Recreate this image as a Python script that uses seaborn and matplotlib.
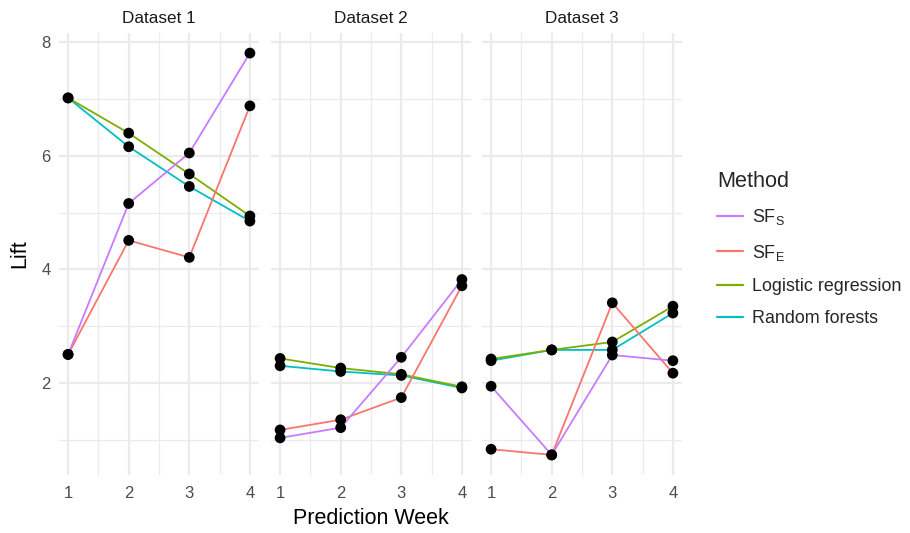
import numpy as np
import pandas as pd
import matplotlib
matplotlib.use("Agg")
import matplotlib.pyplot as plt
from matplotlib.lines import Line2D
import seaborn as sns

# data
weeks = [1, 2, 3, 4]
datasets = ["Dataset 1", "Dataset 2", "Dataset 3"]
methods = ["SF_S", "SF_E", "Logistic regression", "Random forests"]
method_labels = [r"SF$_\mathregular{S}$", r"SF$_\mathregular{E}$",
                 "Logistic regression", "Random forests"]

sfs_lift = [[2.50, 5.16, 6.05, 7.81],
            [1.03, 1.21, 2.45, 3.82],
            [1.94, 0.73, 2.49, 2.39]]
sfe_lift = [[2.50, 4.51, 4.21, 6.88],
            [1.17, 1.35, 1.74, 3.71],
            [0.83, 0.73, 3.41, 2.17]]
lr_lift = [[7.02, 6.40, 5.68, 4.94],
           [2.43, 2.26, 2.15, 1.93],
           [2.42, 2.58, 2.72, 3.35]]
rf_lift = [[7.02, 6.16, 5.46, 4.85],
           [2.30, 2.20, 2.13, 1.91],
           [2.39, 2.58, 2.58, 3.23]]

colors = ["#C77CFF", "#F8766D", "#7CAE00", "#00BFC4"]

rows = []
for m, vals in zip(methods, [sfs_lift, sfe_lift, lr_lift, rf_lift]):
    for d, series in zip(datasets, vals):
        for w, v in zip(weeks, series):
            rows.append({"dataset": d, "method": m, "week": w, "lift": v})
df = pd.DataFrame(rows)

sns.set_theme(style="white")
plt.rcParams["font.family"] = ["Liberation Sans", "DejaVu Sans"]
plt.rcParams["mathtext.fontset"] = "custom"
plt.rcParams["mathtext.rm"] = "Liberation Sans"

fig = plt.figure(figsize=(9.1, 5.33), dpi=100)
grid_col = "#EBEBEB"
palette = dict(zip(methods, colors))

lefts = [59, 271, 482]
for i, d in enumerate(datasets):
    ax = fig.add_axes([lefts[i] / 910, 58 / 533, 200 / 910, 442 / 533])
    sub = df[df["dataset"] == d]
    # draw in reverse so SF_S sits on top like the reference
    sns.lineplot(data=sub, x="week", y="lift", hue="method", palette=palette,
                 hue_order=methods[::-1], linewidth=1.3, legend=False, ax=ax,
                 zorder=3)
    sns.scatterplot(data=sub, x="week", y="lift", color="black", s=60,
                    edgecolor="none", legend=False, ax=ax, zorder=4)
    ax.set_xlim(0.85, 4.15)
    ax.set_ylim(0.376, 8.164)
    ax.set_xticks(weeks)
    ax.set_xticks([1.5, 2.5, 3.5], minor=True)
    ax.set_yticks([2, 4, 6, 8])
    ax.set_yticks([1, 3, 5, 7], minor=True)
    ax.grid(True, which="major", color=grid_col, linewidth=1.6)
    ax.grid(True, which="minor", color=grid_col, linewidth=0.9)
    ax.set_axisbelow(True)
    for s in ax.spines.values():
        s.set_visible(False)
    ax.tick_params(axis="both", which="both", length=0, labelsize=12,
                   labelcolor="#4D4D4D")
    ax.tick_params(axis="x", pad=8)
    ax.tick_params(axis="y", pad=6)
    if i > 0:
        ax.set_yticklabels([])
    ax.set_xlabel("")
    ax.set_ylabel("")
    ax.set_title(d, fontsize=12.3, color="#1A1A1A", pad=7)

fig.text(371 / 910, 1 - 518 / 533, "Prediction Week", ha="center", va="center",
         fontsize=15.5, color="black")
fig.text(20 / 910, 1 - 254 / 533, "Lift", ha="center", va="center",
         rotation=90, fontsize=15.5, color="black")

handles = [Line2D([0], [0], color=c, linewidth=1.6) for c in colors]
leg = fig.legend(handles, method_labels, title="Method", loc="upper left",
                 bbox_to_anchor=(701 / 910, 1 - 155 / 533), frameon=False,
                 fontsize=12.9, title_fontsize=15.6, handlelength=1.45,
                 handletextpad=0.5, labelspacing=0.85)
leg._legend_box.align = "left"

fig.savefig("out.png", dpi=100)
